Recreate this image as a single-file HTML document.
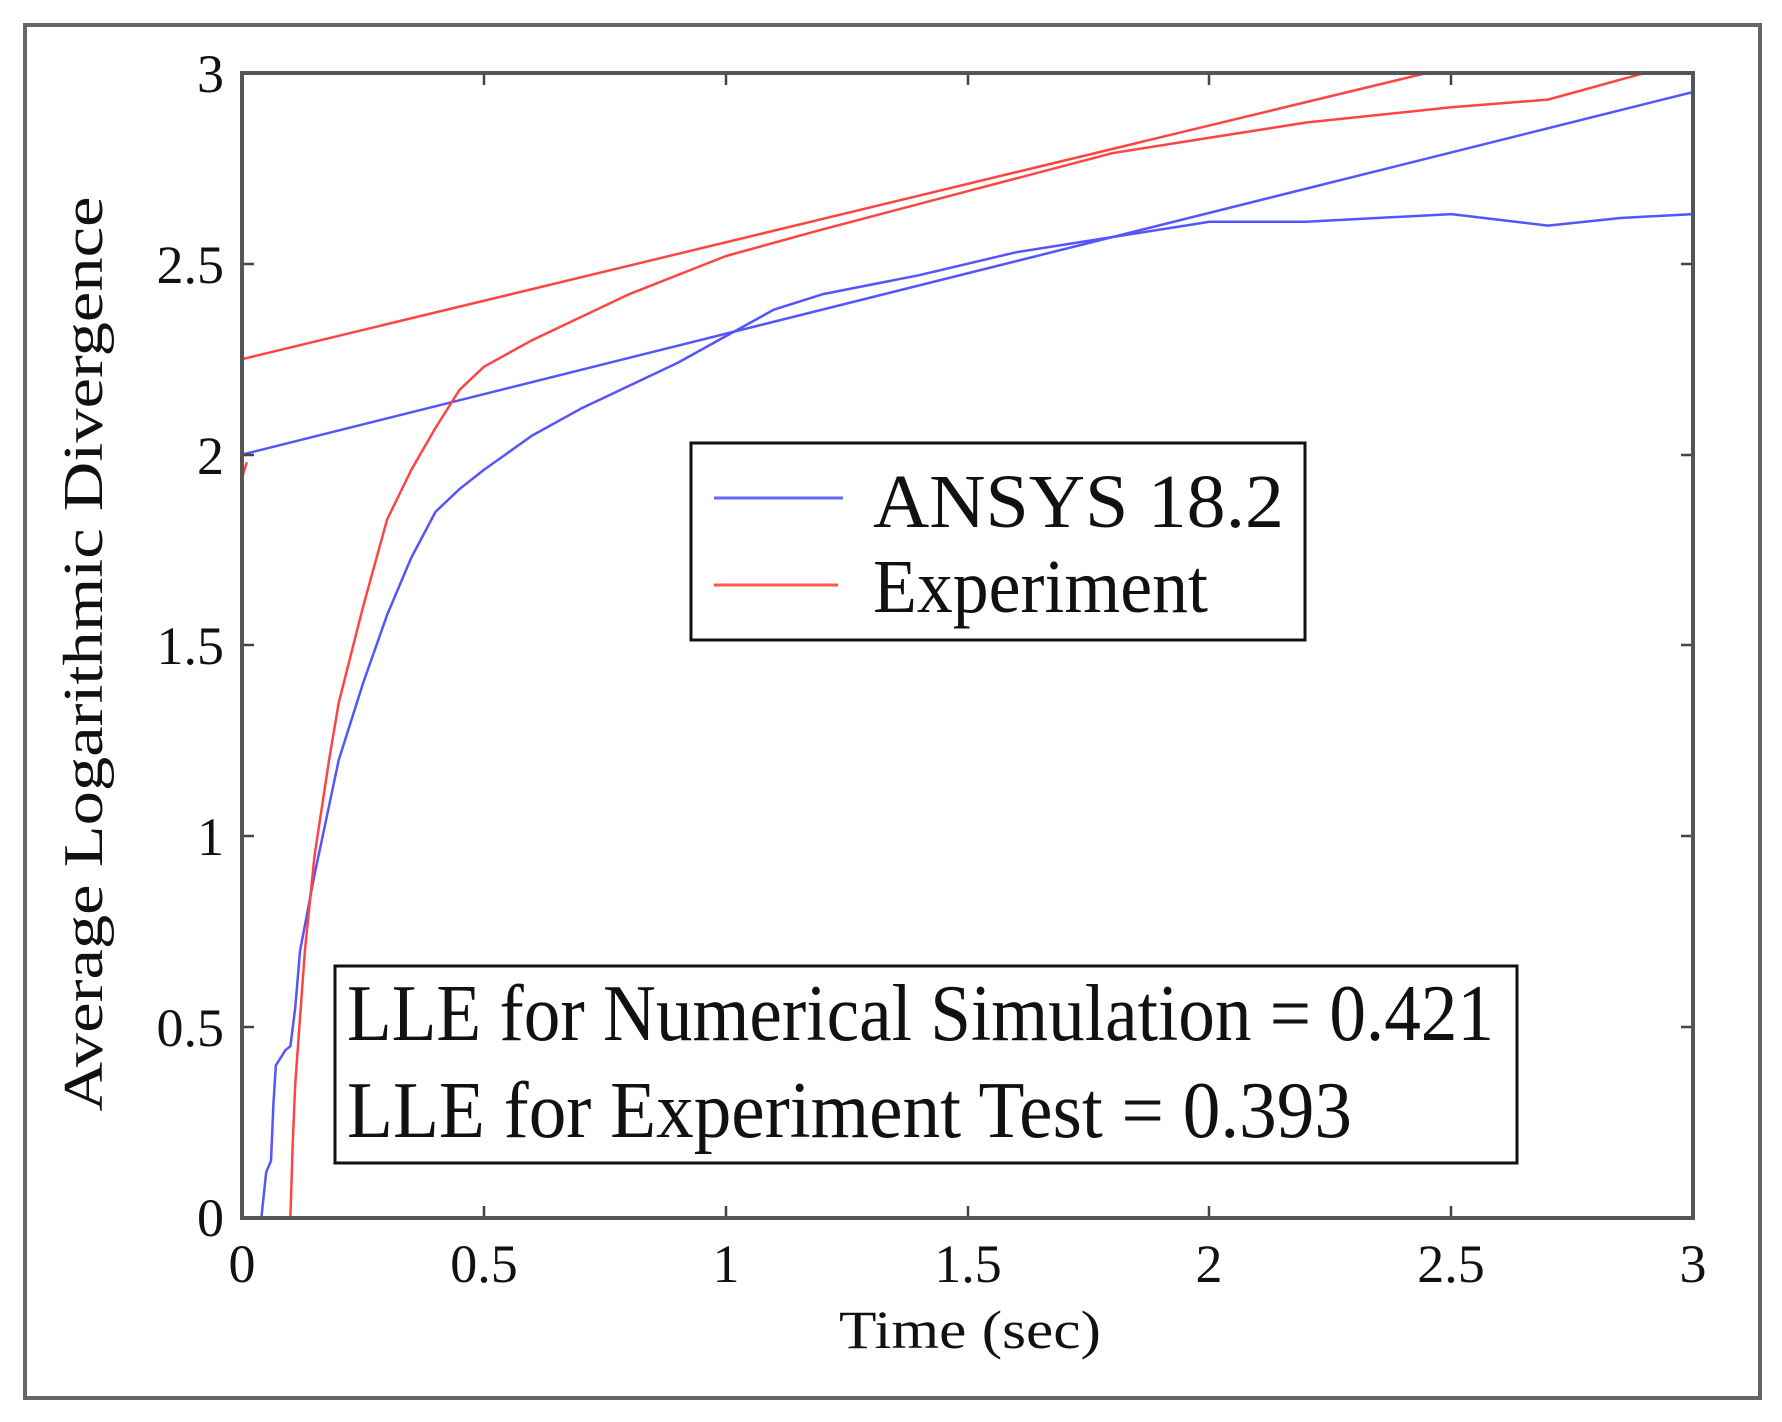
<!DOCTYPE html>
<html><head><meta charset="utf-8"><style>
html,body{margin:0;padding:0;background:#fff;}
svg{display:block;}
text{font-family:"Liberation Serif",serif;fill:#111;}
</style></head><body>
<svg width="1782" height="1422" viewBox="0 0 1782 1422" xmlns="http://www.w3.org/2000/svg">
<rect x="0" y="0" width="1782" height="1422" fill="#fff"/>
<rect x="25" y="25" width="1735" height="1373" fill="none" stroke="#666" stroke-width="4"/>
<!-- plot -->
<g transform="translate(242,1218) scale(483.7,-381.7)" fill="none" stroke-linejoin="round">
<polyline vector-effect="non-scaling-stroke" stroke="#5555ff" stroke-width="2.5" points="0,2.0 3,2.95"/>
<polyline vector-effect="non-scaling-stroke" stroke="#5555ff" stroke-width="2.5" points="0.04,0 0.05,0.12 0.06,0.15 0.065,0.3 0.07,0.4 0.09,0.44 0.1,0.45 0.11,0.55 0.12,0.7 0.15,0.9 0.18,1.08 0.2,1.2 0.25,1.4 0.3,1.58 0.35,1.73 0.4,1.85 0.45,1.91 0.5,1.96 0.6,2.05 0.7,2.12 0.8,2.18 0.9,2.24 1.0,2.31 1.1,2.38 1.2,2.42 1.4,2.47 1.6,2.53 1.8,2.57 1.95,2.6 2.0,2.61 2.2,2.61 2.5,2.63 2.7,2.6 2.85,2.62 3,2.63"/>
<polyline vector-effect="non-scaling-stroke" stroke="#ff4444" stroke-width="2.5" points="0,2.25 2.45,3.0"/>
<polyline vector-effect="non-scaling-stroke" stroke="#ff4444" stroke-width="2.5" points="0.1,0 0.105,0.2 0.11,0.35 0.13,0.7 0.15,0.95 0.18,1.2 0.2,1.35 0.25,1.6 0.3,1.83 0.35,1.96 0.4,2.07 0.45,2.17 0.5,2.23 0.6,2.3 0.8,2.42 1.0,2.52 1.2,2.59 1.5,2.69 1.8,2.79 2.0,2.83 2.2,2.87 2.5,2.91 2.7,2.93 2.9,3.0"/>
<polyline vector-effect="non-scaling-stroke" stroke="#ff4444" stroke-width="2.5" points="0,1.94 0.01,1.98"/>
</g>
<!-- ticks -->
<g stroke="#444" stroke-width="2.5">
<line x1="484" y1="1218" x2="484" y2="1206"/><line x1="726" y1="1218" x2="726" y2="1206"/><line x1="968" y1="1218" x2="968" y2="1206"/><line x1="1209" y1="1218" x2="1209" y2="1206"/><line x1="1451" y1="1218" x2="1451" y2="1206"/>
<line x1="484" y1="73" x2="484" y2="85"/><line x1="726" y1="73" x2="726" y2="85"/><line x1="968" y1="73" x2="968" y2="85"/><line x1="1209" y1="73" x2="1209" y2="85"/><line x1="1451" y1="73" x2="1451" y2="85"/>
<line x1="242" y1="1027" x2="254" y2="1027"/><line x1="242" y1="836" x2="254" y2="836"/><line x1="242" y1="645" x2="254" y2="645"/><line x1="242" y1="455" x2="254" y2="455"/><line x1="242" y1="264" x2="254" y2="264"/>
<line x1="1693" y1="1027" x2="1681" y2="1027"/><line x1="1693" y1="836" x2="1681" y2="836"/><line x1="1693" y1="645" x2="1681" y2="645"/><line x1="1693" y1="455" x2="1681" y2="455"/><line x1="1693" y1="264" x2="1681" y2="264"/>
</g>
<rect x="242" y="73" width="1451" height="1145" fill="none" stroke="#555" stroke-width="4"/>
<!-- y tick labels -->
<g font-size="54" text-anchor="end">
<text x="224" y="1236">0</text><text x="224" y="1046">0.5</text><text x="224" y="855">1</text><text x="224" y="664">1.5</text><text x="224" y="474">2</text><text x="224" y="283">2.5</text><text x="224" y="92">3</text>
</g>
<g font-size="54" text-anchor="middle">
<text x="242" y="1282">0</text><text x="484" y="1282">0.5</text><text x="726" y="1282">1</text><text x="968" y="1282">1.5</text><text x="1209" y="1282">2</text><text x="1451" y="1282">2.5</text><text x="1693" y="1282">3</text>
</g>
<text x="970" y="1348" font-size="54" text-anchor="middle" textLength="262" lengthAdjust="spacingAndGlyphs">Time (sec)</text>
<text transform="translate(102,654) rotate(-90)" font-size="56" text-anchor="middle" textLength="915" lengthAdjust="spacingAndGlyphs">Average Logarithmic Divergence</text>
<!-- legend -->
<rect x="691" y="443" width="614" height="197" fill="#fff" stroke="#111" stroke-width="3"/>
<line x1="714" y1="498" x2="843" y2="498" stroke="#6666ff" stroke-width="3"/>
<line x1="714" y1="585" x2="838" y2="585" stroke="#ff5555" stroke-width="3"/>
<text x="873" y="527" font-size="76" textLength="411" lengthAdjust="spacingAndGlyphs">ANSYS 18.2</text>
<text x="873" y="612" font-size="76" textLength="335" lengthAdjust="spacingAndGlyphs">Experiment</text>
<!-- LLE box -->
<rect x="335" y="966" width="1182" height="197" fill="#fff" stroke="#111" stroke-width="3"/>
<text x="347" y="1040" font-size="80" textLength="1147" lengthAdjust="spacingAndGlyphs">LLE for Numerical Simulation = 0.421</text>
<text x="347" y="1137" font-size="80" textLength="1005" lengthAdjust="spacingAndGlyphs">LLE for Experiment Test = 0.393</text>
</svg>
</body></html>
